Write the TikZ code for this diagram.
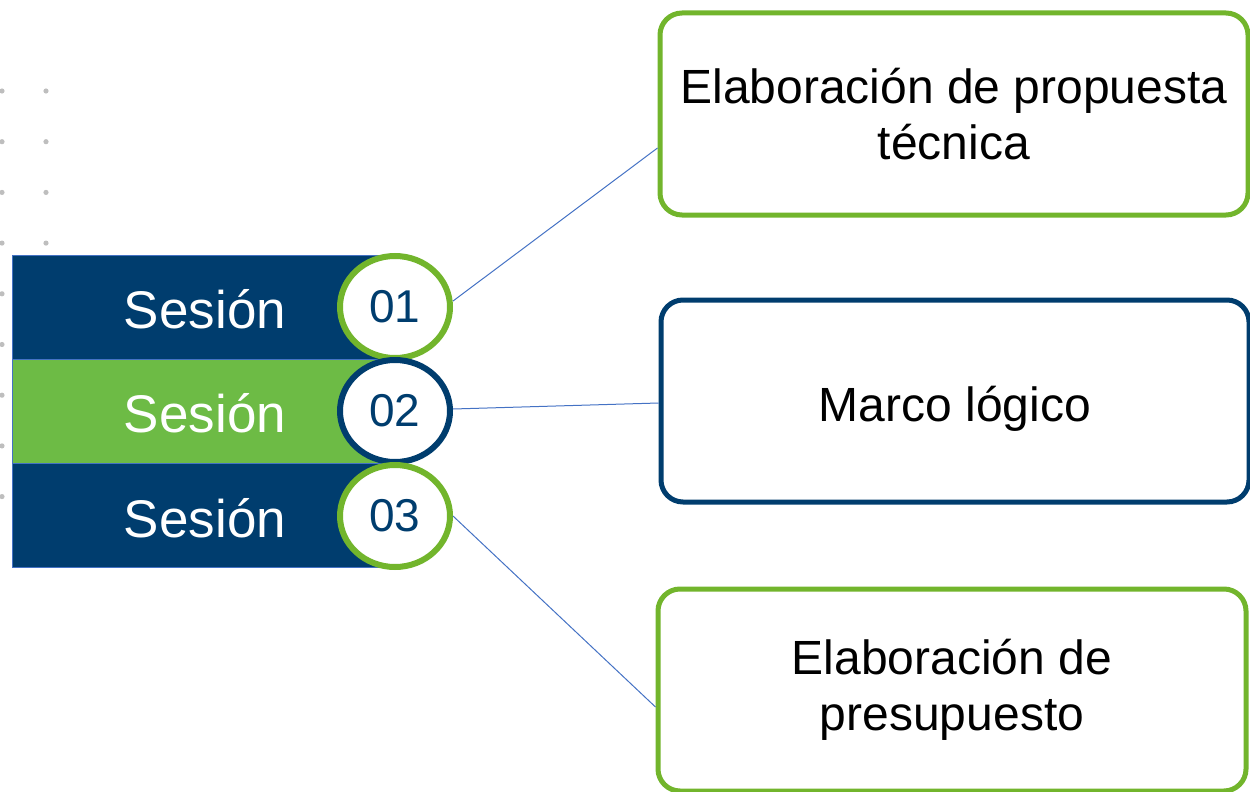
\documentclass[tikz,border=0pt]{standalone}
\usepackage{fontspec}
\setmainfont{Liberation Sans}
\usetikzlibrary{shapes.geometric, calc, positioning}
\definecolor{navy}{RGB}{0,61,110}
\definecolor{leaf}{RGB}{114,181,44}
\definecolor{barleaf}{RGB}{109,187,69}
\definecolor{linkblue}{RGB}{68,114,196}
\definecolor{dotgray}{RGB}{190,190,190}
\tikzset{
    bar/.style={rectangle, draw=linkblue, line width=0.6pt, minimum width=383pt, minimum height=104pt, inner sep=0pt},
    barText/.style={text=white, font=\fontsize{53}{58}\selectfont},
    numRing/.style={ellipse, fill=white, line width=6pt, minimum width=110pt, minimum height=102pt, inner sep=0pt, text=navy, font=\fontsize{46}{50}\selectfont},
    topicBox/.style={rectangle, rounded corners=22pt, fill=white, line width=5pt, minimum width=588pt, minimum height=202pt, align=center, font=\fontsize{48}{56}\selectfont},
    link/.style={draw=linkblue, line width=1pt},
}
\begin{document}
\begin{tikzpicture}[x=1pt, y=-1pt]
    \useasboundingbox (0,0) rectangle (1250,792);

    % dot grid
    \foreach \r in {0,...,8} {
        \foreach \c in {2,46} {
            \fill[dotgray] (\c, 91+50.7*\r) circle (2.6);
        }
    }

    % session bars
    \node[bar, fill=navy, anchor=north west] (s1) at (12, 255) {};
    \node[bar, fill=barleaf, anchor=north west] (s2) at (12, 359) {};
    \node[bar, fill=navy, anchor=north west] (s3) at (12, 463) {};
    \node[barText] (t1) at (205, 309) {Sesión};
    \node[barText] (t2) at (205, 413) {Sesión};
    \node[barText] (t3) at (205, 518) {Sesión};

    % numbers
    \node[numRing, draw=leaf] (n1) at (395, 307) {01};
    \node[numRing, draw=navy] (n2) at (395, 411) {02};
    \node[numRing, draw=leaf] (n3) at (395, 516) {03};

    % topics
    \node[topicBox, draw=leaf] (b1) at (954, 114) {Elaboración de propuesta\\técnica};
    \node[topicBox, draw=navy] (b2) at (955, 401) {\smash{\raisebox{-20pt}{Marco lógico}}};
    \node[topicBox, draw=leaf] (b3) at (952, 690) {Elaboración de\\presupuesto};

    \draw[link] ([yshift=6pt]n1.east) -- ([yshift=-34pt]b1.west);
    \draw[link] ([yshift=2pt]n2.east) -- ([yshift=-2pt]b2.west);
    \draw[link] (n3.east) -- ([yshift=-17pt]b3.west);

\end{tikzpicture}
\end{document}
